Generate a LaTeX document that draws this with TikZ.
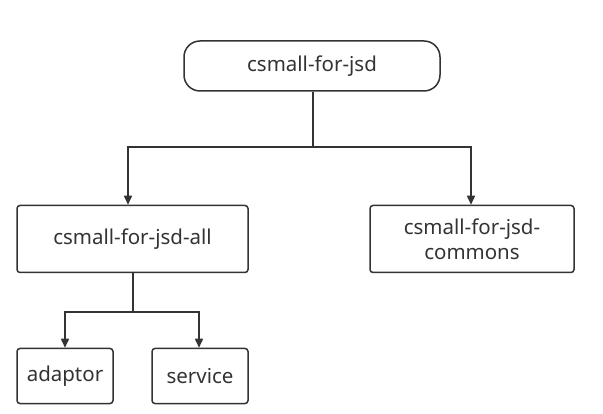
\documentclass[tikz,border=0pt]{standalone}
\usepackage{fontspec}
\setmainfont{Noto Sans}
\usetikzlibrary{arrows.meta}
\definecolor{ink}{HTML}{333333}
\tikzset{
  box/.style={draw=ink, line width=1.5pt, rounded corners=3pt, text=ink, font=\fontsize{20.5}{25}\selectfont, align=center, inner sep=0pt},
  pill/.style={box, rounded corners=16pt},
  conn/.style={draw=ink, line width=1.5pt},
  arr/.style={conn, -{Triangle[length=9pt,width=8pt]}}
}
\begin{document}
\begin{tikzpicture}[x=1pt,y=-1pt]
\useasboundingbox (0,0) rectangle (603,414);
\node[pill, minimum width=256pt, minimum height=50pt] (root) at (312,66) {csmall-for-jsd};
\node[box, minimum width=231pt, minimum height=67pt] (all) at (132.5,239) {csmall-for-jsd-all};
\node[box, minimum width=204pt, minimum height=67pt] (com) at (472,239) {csmall-for-jsd-\\commons};
\node[box, minimum width=96pt, minimum height=55pt] (ad) at (65,376) {adaptor};
\node[box, minimum width=96pt, minimum height=55pt] (sv) at (200,376) {service};
\coordinate (j1) at (313,147);
\coordinate (j2) at (133,312);
\draw[conn] (root.south -| j1) -- (j1);
\draw[arr] (j1) -| (all.north -| 128,0);
\draw[arr] (j1) -| (com.north -| 471,0);
\draw[conn] (all.south -| j2) -- (j2);
\draw[arr] (j2) -| (ad.north);
\draw[arr] (j2) -| (sv.north -| 199,0);
\end{tikzpicture}
\end{document}
